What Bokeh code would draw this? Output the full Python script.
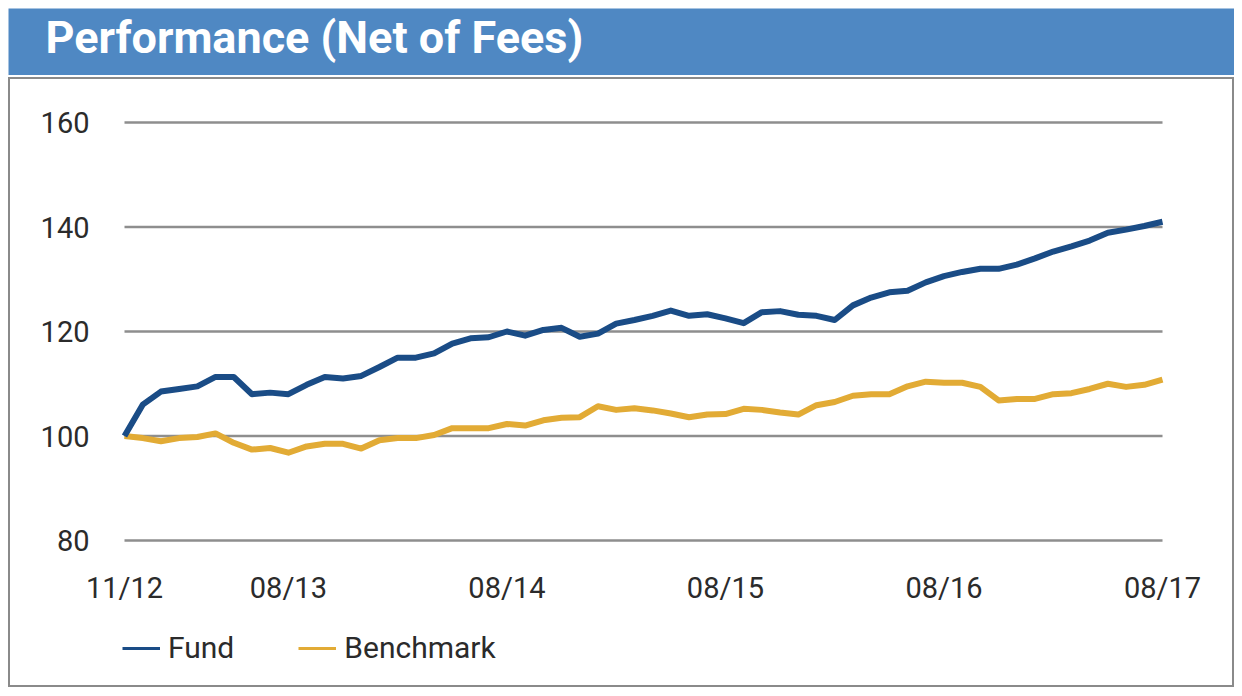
from bokeh.plotting import figure
from bokeh.models import (Range1d, LinearAxis, FixedTicker, Legend, LegendItem,
                          Label, ColumnDataSource)
from bokeh.layouts import column
from bokeh.embed import file_html
from bokeh.resources import INLINE

# ---------------- data ----------------
month_index = list(range(58))          # 11/2012 .. 08/2017, monthly
fund = [100, 106, 108.5, 109, 109.5, 111.3, 111.3, 108, 108.3, 108,
        109.8, 111.3, 111, 111.5, 113.2, 115, 115, 115.8, 117.7, 118.7,
        118.9, 120, 119.2, 120.3, 120.7, 119, 119.6, 121.5, 122.2, 123,
        124, 123, 123.3, 122.5, 121.6, 123.7, 123.9, 123.2, 123, 122.2,
        125, 126.5, 127.5, 127.8, 129.4, 130.6, 131.4, 132, 132, 132.8,
        134, 135.3, 136.3, 137.4, 138.9, 139.5, 140.2, 141]
benchmark = [100, 99.6, 99, 99.6, 99.8, 100.5, 98.7, 97.4, 97.7, 96.8,
             98, 98.5, 98.5, 97.6, 99.2, 99.6, 99.6, 100.2, 101.5, 101.5,
             101.5, 102.3, 102, 103, 103.5, 103.6, 105.7, 105, 105.3, 104.9,
             104.3, 103.6, 104.1, 104.2, 105.2, 105, 104.5, 104.1, 105.9, 106.5,
             107.7, 108, 108, 109.5, 110.4, 110.2, 110.2, 109.4, 106.8, 107.1,
             107.1, 108, 108.2, 109, 110, 109.4, 109.8, 110.8]
x_tick_positions = [0, 9, 21, 33, 45, 57]
x_tick_labels = ["11/12", "08/13", "08/14", "08/15", "08/16", "08/17"]
y_ticks = [80, 100, 120, 140, 160]
title_text = "Performance (Net of Fees)"

# ---------------- styles ----------------
FONT = "Roboto"
HEADER_BLUE = "#4f88c3"
FUND_COLOR = "#1a4c86"
BENCH_COLOR = "#e2ab35"
GRID_COLOR = "#8e8e8e"
TEXT_COLOR = "#2b2b2b"
W = 1226
HEADER_H = 67
MAIN_H = 610

# ---------------- header ----------------
header = figure(width=W, height=HEADER_H, toolbar_location=None,
                output_backend="svg", x_axis_type=None, y_axis_type=None,
                x_range=Range1d(0, W), y_range=Range1d(0, HEADER_H),
                min_border=0, outline_line_color=None,
                background_fill_color=HEADER_BLUE, border_fill_color=HEADER_BLUE)
header.add_layout(Label(x=37, y=38, text=title_text, text_color="white",
                        text_font=FONT, text_font_style="bold",
                        text_font_size="45px", text_baseline="middle"))

# ---------------- main plot ----------------
px_per_month = 1038 / 57.0
px_per_unit = 418 / 80.0
xs = -116 / px_per_month
xe = xs + W / px_per_month
ye = 160 + 45 / px_per_unit
ys = ye - MAIN_H / px_per_unit

p = figure(width=W, height=MAIN_H, toolbar_location=None, output_backend="svg",
           x_axis_type=None, y_axis_type=None,
           x_range=Range1d(xs, xe), y_range=Range1d(ys, ye),
           min_border=0, outline_line_color="#8a8a8a", outline_line_width=3,
           background_fill_color="white", border_fill_color="white")

# horizontal gridlines spanning the data period
p.segment(x0=[month_index[0]] * len(y_ticks), x1=[month_index[-1]] * len(y_ticks),
          y0=y_ticks, y1=y_ticks, line_color=GRID_COLOR, line_width=2.5)

src = ColumnDataSource(dict(m=month_index, fund=fund, bench=benchmark))
p.line("m", "bench", source=src, line_color=BENCH_COLOR, line_width=6,
       line_join="round")
p.line("m", "fund", source=src, line_color=FUND_COLOR, line_width=6,
       line_join="round")

# axes
xaxis = LinearAxis(fixed_location=y_ticks[0], ticker=FixedTicker(ticks=x_tick_positions),
                   major_label_overrides={t: l for t, l in zip(x_tick_positions, x_tick_labels)})
yaxis = LinearAxis(fixed_location=month_index[0], ticker=FixedTicker(ticks=y_ticks))
for ax in (xaxis, yaxis):
    ax.axis_line_color = None
    ax.major_tick_line_color = None
    ax.minor_tick_line_color = None
    ax.major_label_text_font = FONT
    ax.major_label_text_font_size = "29px"
    ax.major_label_text_color = TEXT_COLOR
xaxis.major_label_standoff = 24
yaxis.major_label_standoff = 29
p.add_layout(xaxis, "below")
p.add_layout(yaxis, "left")

# legend sample lines (single-point lines: draw nothing in the plot)
lf = p.line(x=month_index[:1], y=fund[:1], line_color=FUND_COLOR, line_width=3)
lb = p.line(x=month_index[:1], y=benchmark[:1], line_color=BENCH_COLOR, line_width=3)
legend = Legend(items=[LegendItem(label="Fund", renderers=[lf]),
                       LegendItem(label="Benchmark", renderers=[lb])],
                orientation="horizontal", location=(114, 22),
                glyph_width=38, glyph_height=20, label_standoff=8, spacing=64,
                padding=0, margin=0, border_line_color=None,
                background_fill_alpha=0,
                label_text_font=FONT, label_text_font_size="30px",
                label_text_color=TEXT_COLOR)
p.add_layout(legend)

layout = column(header, p, spacing=2, margin=(8, 0, 0, 8))
open("out.html", "w").write(file_html(layout, INLINE))
